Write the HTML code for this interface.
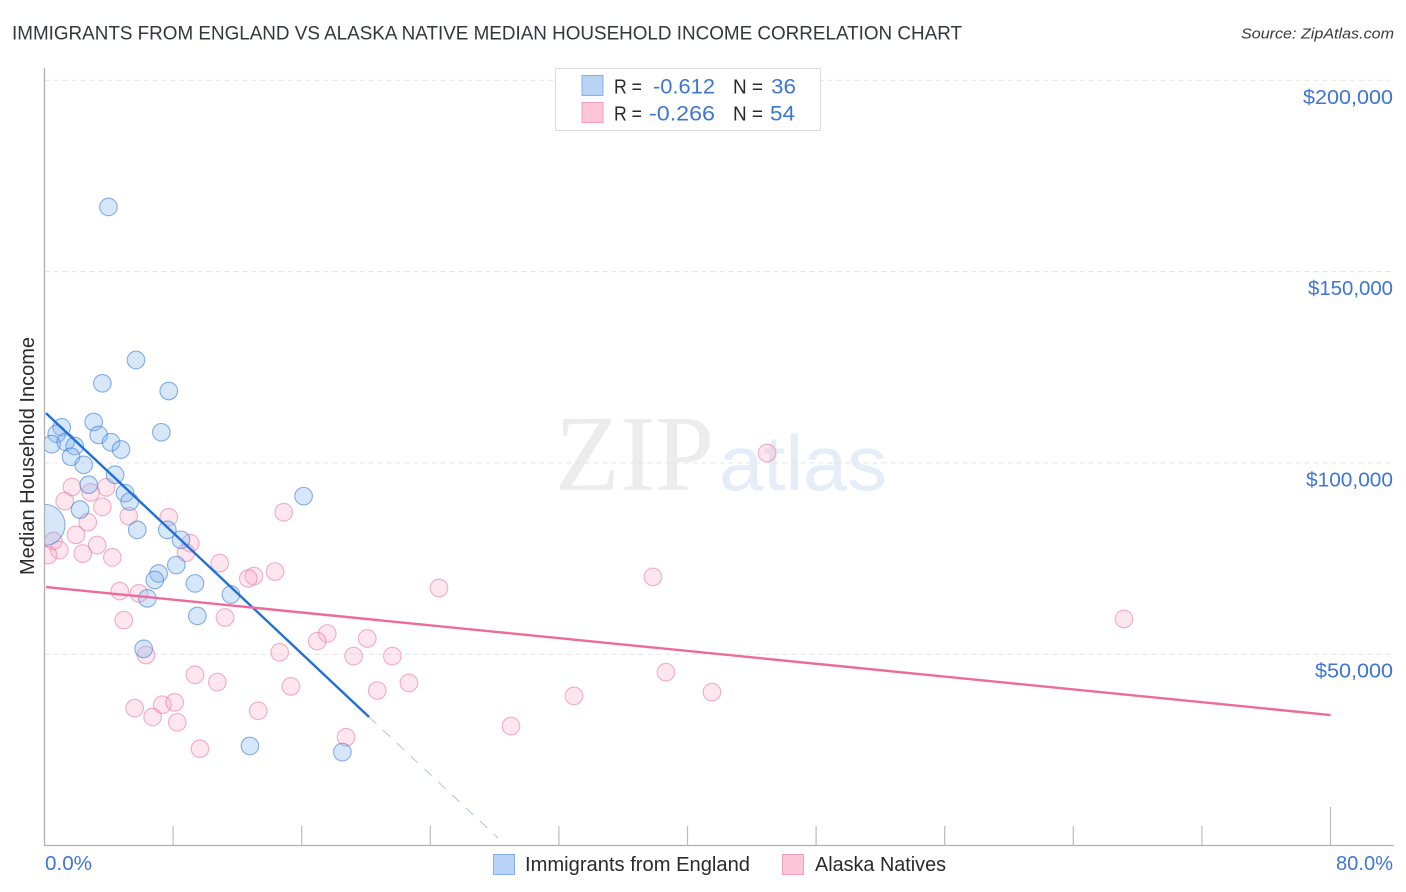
<!DOCTYPE html>
<html lang="en">
<head>
<meta charset="utf-8">
<title>Immigrants from England vs Alaska Native Median Household Income Correlation Chart</title>
<style>
html,body{margin:0;padding:0;background:#fff;}
svg{display:block;font-family:"Liberation Sans",sans-serif;}
</style>
</head>
<body>
<svg id="chart" xmlns="http://www.w3.org/2000/svg" width="1406" height="892" viewBox="0 0 1406 892">
  <defs><clipPath id="plot-clip"><rect x="45" y="60" width="1349" height="785"/></clipPath></defs>
  <text x="12" y="39.5" font-size="19" fill="#33373d" textLength="950" lengthAdjust="spacingAndGlyphs">IMMIGRANTS FROM ENGLAND VS ALASKA NATIVE MEDIAN HOUSEHOLD INCOME CORRELATION CHART</text>
  <text x="1241" y="38.5" font-size="15" font-style="italic" fill="#3a3a3a" textLength="153" lengthAdjust="spacingAndGlyphs">Source: ZipAtlas.com</text>
  <text x="555" y="490" font-family="'Liberation Serif',serif" font-size="108" fill="#ececec" textLength="159" lengthAdjust="spacingAndGlyphs">ZIP</text>
  <text x="719" y="490" font-size="78" fill="#e5edf9" textLength="168" lengthAdjust="spacingAndGlyphs">atlas</text>
  <g id="grid"></g>
  <g id="axes"></g>
  <g id="points" clip-path="url(#plot-clip)"></g>
  <g id="trends"></g>
  <g id="labels"></g>
  <text transform="translate(34,575) rotate(-90)" font-size="20" fill="#2a2a2a" textLength="238" lengthAdjust="spacingAndGlyphs">Median Household Income</text>

  <g>
    <rect x="555.5" y="68.5" width="265" height="62" fill="#fff" stroke="#dcdcdc" stroke-width="1"/>
    <rect x="582" y="75.5" width="21" height="20" fill="#b9d3f7" stroke="#86b0e8" stroke-width="1"/>
    <rect x="582" y="102.5" width="21" height="20" fill="#fcc5d8" stroke="#f0a0bc" stroke-width="1"/>
    <g font-size="20.5" fill="#2a2a2a">
      <text x="614" y="93.5" textLength="28" lengthAdjust="spacingAndGlyphs">R =</text>
      <text x="733" y="93.5" textLength="30" lengthAdjust="spacingAndGlyphs">N =</text>
      <text x="614" y="120.5" textLength="28" lengthAdjust="spacingAndGlyphs">R =</text>
      <text x="733" y="120.5" textLength="30" lengthAdjust="spacingAndGlyphs">N =</text>
    </g>
    <g font-size="21.5" fill="#3f76d6">
      <text x="653" y="93.5" textLength="62" lengthAdjust="spacingAndGlyphs">-0.612</text>
      <text x="771" y="93.5" textLength="25" lengthAdjust="spacingAndGlyphs">36</text>
      <text x="649" y="120.5" textLength="66" lengthAdjust="spacingAndGlyphs">-0.266</text>
      <text x="770" y="120.5" textLength="25" lengthAdjust="spacingAndGlyphs">54</text>
    </g>
  </g>

  <g>
    <rect x="493.5" y="854.5" width="21" height="20" fill="#b9d3f7" stroke="#86b0e8" stroke-width="1"/>
    <text x="525" y="871" font-size="20" fill="#2a2a2a" textLength="225" lengthAdjust="spacingAndGlyphs">Immigrants from England</text>
    <rect x="782.5" y="854.5" width="21" height="20" fill="#fcc5d8" stroke="#f0a0bc" stroke-width="1"/>
    <text x="815" y="871" font-size="20" fill="#2a2a2a" textLength="131" lengthAdjust="spacingAndGlyphs">Alaska Natives</text>
  </g>
</svg>
<script>
const yTicks = [200000, 150000, 100000, 50000];
const yTickLabels = ["$200,000", "$150,000", "$100,000", "$50,000"];
const xTicks = [0, 8, 16, 24, 32, 40, 48, 56, 64, 72, 80];
const xEndLabels = ["0.0%", "80.0%"];

const englandShare = [3.98,5.69,3.60,7.73,3.06,7.27,1.07,0.76,3.37,4.14,4.76,0.45,1.32,1.88,1.65,2.44,4.39,2.75,5.01,5.30,16.12,2.21,0.00,5.77,7.64,8.49,8.20,7.10,6.86,9.36,11.60,6.40,9.51,6.17,12.78,18.53];
const englandIncome = [166900,126900,120800,118800,110700,108000,109300,107600,107300,105400,103500,104900,105500,104400,101600,99500,96900,94300,92100,89900,91300,87800,83800,82500,82500,79900,73300,71100,69400,68500,65600,64600,60000,51400,26000,24400];
const englandLargePoint = 22;

const alaskaShare = [1.71,3.84,2.87,1.26,3.60,5.24,7.73,14.88,2.69,1.96,9.07,8.80,3.28,0.55,0.92,0.22,2.38,4.22,10.90,13.03,12.68,14.34,4.68,5.88,4.93,11.23,17.59,16.97,20.08,14.63,19.23,21.64,6.31,9.36,10.75,15.33,20.70,5.61,7.33,8.10,6.73,8.26,13.30,9.67,18.76,22.67,32.94,29.02,37.85,24.54,67.15,44.95,38.66,41.52];
const alaskaIncome = [93700,93600,92300,90000,88500,86100,85800,87100,84500,81200,79000,76500,78500,79600,77200,75900,76300,75300,73800,70400,69800,71600,66500,65900,58900,59600,55400,53400,54100,50500,49500,49500,49800,44600,42700,41600,40500,35900,36800,37400,33600,32200,35200,25300,28300,42500,39100,31200,70200,67300,59200,102600,45300,40100];

const englandTrendShare = [0.09, 20.19];
const englandTrendIncome = [113000, 33600];
const englandDashShare = [20.19, 28.21];
const englandDashIncome = [33600, 1960];
const alaskaTrendShare = [0.09, 80];
const alaskaTrendIncome = [67560, 34100];

const NS = "http://www.w3.org/2000/svg";
function xScale(v){ return 44.5 + v * (1330.5 - 44.5) / 80; }
function yScale(v){ return 845.5 - v * (845.5 - 80.3) / 200000; }
function make(tag, attrs, parent){
  const el = document.createElementNS(NS, tag);
  for (const k in attrs) el.setAttribute(k, attrs[k]);
  parent.appendChild(el);
  return el;
}
const grid = document.getElementById("grid");
const axes = document.getElementById("axes");
const pts = document.getElementById("points");
const trends = document.getElementById("trends");
const labels = document.getElementById("labels");

yTicks.forEach(function(t, i){
  const line = make("line", {x1:44.5, x2:1394, y1:yScale(t), y2:yScale(t), stroke:"#e3e3e3", "stroke-width":1, "stroke-dasharray":"5 4"}, grid);
  
  
  const labelWidth = [90, 85, 87, 78][i];
  const lab = make("text", {x:1393, y:yScale(t)+23.5, "text-anchor":"end", "font-size":20.5, fill:"#3f76d6", textLength:labelWidth, lengthAdjust:"spacingAndGlyphs"}, labels);
  lab.textContent = yTickLabels[i];
  
  
});

const yAxis = make("line", {x1:44.5, x2:44.5, y1:68, y2:846, stroke:"#b0b0b0", "stroke-width":1.3}, axes);


const xAxis = make("line", {x1:44, x2:1394, y1:845.5, y2:845.5, stroke:"#b0b0b0", "stroke-width":1.3}, axes);


xTicks.forEach(function(t, i){
  if (i === 0) return;
  const top = i === xTicks.length - 1 ? 807 : 826;
  const tick = make("line", {x1:xScale(t), x2:xScale(t), y1:top, y2:845.5, stroke:"#bcbcbc", "stroke-width":1.2}, axes);
  
  
});

const xLabelLeft = make("text", {x:45, y:870, "font-size":20.5, fill:"#3f76d6", textLength:47, lengthAdjust:"spacingAndGlyphs"}, labels);
xLabelLeft.textContent = xEndLabels[0];


const xLabelRight = make("text", {x:1393, y:870, "text-anchor":"end", "font-size":20.5, fill:"#3f76d6", textLength:57, lengthAdjust:"spacingAndGlyphs"}, labels);
xLabelRight.textContent = xEndLabels[1];



alaskaShare.forEach(function(s, i){
  const c = make("circle", {cx:xScale(s), cy:yScale(alaskaIncome[i]), r:8.8, fill:"rgba(248,165,192,0.28)", stroke:"rgba(232,120,160,0.58)", "stroke-width":1.1}, pts);
  
  
});
englandShare.forEach(function(s, i){
  const c = make("circle", {cx:xScale(s), cy:yScale(englandIncome[i]), r: i === englandLargePoint ? 20.5 : 8.8, fill:"rgba(130,180,240,0.32)", stroke:"rgba(60,125,215,0.6)", "stroke-width":1.1}, pts);
  
  
});

const dash = make("line", {x1:xScale(englandDashShare[0]), y1:yScale(englandDashIncome[0]), x2:xScale(englandDashShare[1]), y2:yScale(englandDashIncome[1]), stroke:"#b6c3d4", "stroke-width":1, "stroke-dasharray":"10 9"}, trends);


const tb = make("line", {x1:xScale(englandTrendShare[0]), y1:yScale(englandTrendIncome[0]), x2:xScale(englandTrendShare[1]), y2:yScale(englandTrendIncome[1]), stroke:"#2170d8", "stroke-width":2.4}, trends);


const tp = make("line", {x1:xScale(alaskaTrendShare[0]), y1:yScale(alaskaTrendIncome[0]), x2:xScale(alaskaTrendShare[1]), y2:yScale(alaskaTrendIncome[1]), stroke:"#ec6b9a", "stroke-width":2.4}, trends);


</script>
</body>
</html>
